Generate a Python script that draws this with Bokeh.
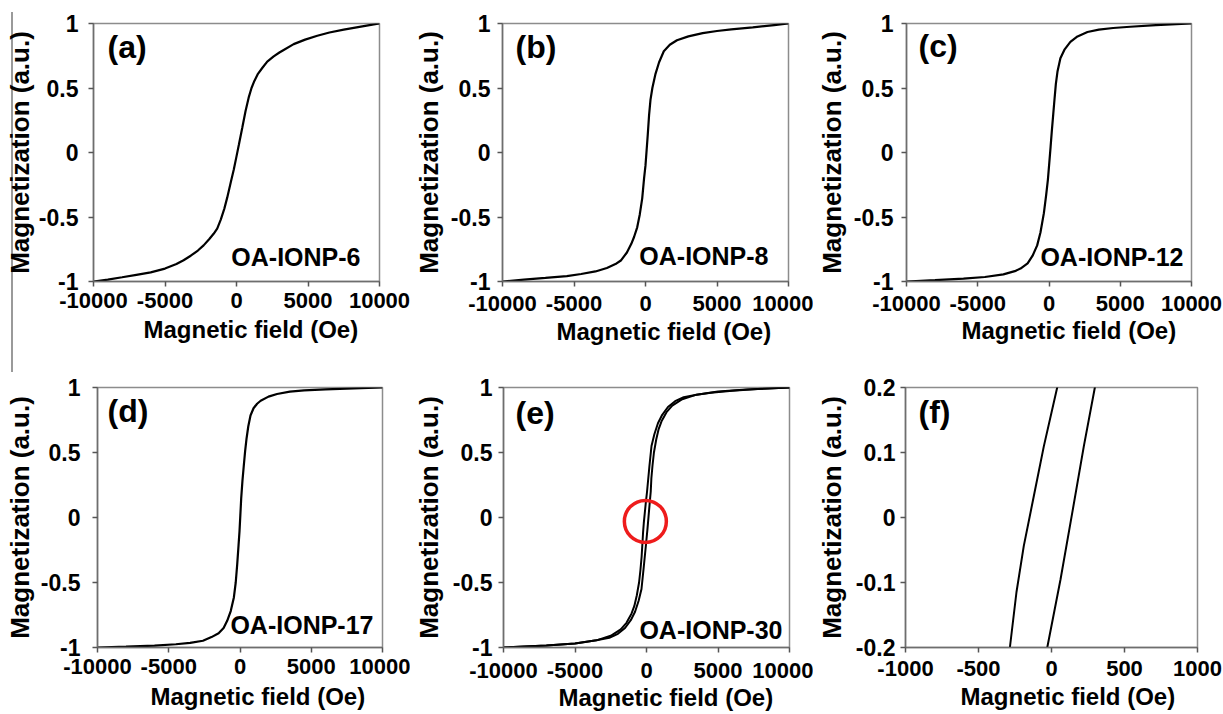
from bokeh.plotting import figure
from bokeh.models import Range1d, FixedTicker, Label, Div, Title
from bokeh.layouts import row, column
from bokeh.embed import file_html
from bokeh.resources import INLINE

# ---------------- data ----------------
field_a = [-10000, -9000, -8000, -7000, -6000, -5000, -4200, -3700, -3200, -2700, -2300, -1900,
           -1600, -1350, -1100, -850, -650, -400, -185, 0, 165, 400, 630, 850, 1050, 1250, 1500,
           1800, 2150, 2600, 3000, 3300, 4000, 4800, 5650, 6500, 7500, 8500, 9300, 10000]
mag_a = [-1.0, -0.985, -0.967, -0.948, -0.929, -0.9, -0.865, -0.835, -0.8, -0.76, -0.72, -0.67,
         -0.63, -0.59, -0.52, -0.435, -0.35, -0.23, -0.13, -0.03, 0.06, 0.19, 0.32, 0.425, 0.5, 0.555,
         0.61, 0.655, 0.705, 0.745, 0.775, 0.795, 0.84, 0.875, 0.905, 0.93, 0.952, 0.972, 0.987, 1.0]

field_b = [-10000, -8500, -7000, -5500, -4500, -3500, -2700, -2100, -1700, -1300, -1000, -800,
           -580, -400, -230, -100, 0, 80, 160, 250, 350, 480, 700, 950, 1280, 1700, 2200, 3000,
           4000, 5000, 6000, 7500, 9000, 10000]
mag_b = [-1.0, -0.985, -0.972, -0.958, -0.942, -0.922, -0.895, -0.865, -0.835, -0.775, -0.71, -0.655,
         -0.58, -0.48, -0.355, -0.2, -0.1, 0.02, 0.14, 0.29, 0.41, 0.5, 0.61, 0.7, 0.785, 0.835, 0.87,
         0.9, 0.925, 0.942, 0.955, 0.97, 0.988, 1.0]

field_c = [-10000, -8000, -6000, -4500, -3200, -2400, -2000, -1500, -1150, -830, -600, -360, -200,
           -77, 20, 112, 200, 300, 400, 480, 600, 800, 1100, 1500, 2000, 2700, 3500, 4500, 5700,
           7500, 10000]
mag_c = [-1.0, -0.99, -0.978, -0.965, -0.945, -0.92, -0.9, -0.86, -0.8, -0.72, -0.62, -0.47, -0.33,
         -0.21, -0.08, 0.044, 0.17, 0.3, 0.43, 0.53, 0.63, 0.73, 0.8, 0.857, 0.9, 0.934, 0.952,
         0.965, 0.975, 0.987, 1.0]

field_d = [-10000, -8000, -6000, -4500, -3500, -2600, -2000, -1500, -1150, -900, -650, -430, -300,
           -196, -100, -35, 25, 84, 170, 267, 360, 456, 580, 737, 950, 1200, 1450, 2000, 2600,
           3500, 4500, 6000, 8000, 10000]
mag_d = [-1.0, -0.993, -0.985, -0.975, -0.965, -0.948, -0.92, -0.89, -0.85, -0.795, -0.72, -0.615,
         -0.5, -0.36, -0.21, -0.107, 0.02, 0.147, 0.28, 0.4, 0.51, 0.605, 0.7, 0.785, 0.84, 0.875,
         0.898, 0.93, 0.95, 0.968, 0.978, 0.986, 0.993, 1.0]

# OA-IONP-30 hysteresis loop: descending and ascending branches
field_e_desc = [10000, 8000, 6000, 4500, 3500, 2600, 2000, 1500, 1100, 800, 550, 350, 200, 39,
                -53, -121, -190, -240, -285, -340, -420, -520, -680, -850, -1050, -1400, -1800,
                -2500, -3500, -5000, -7000, -10000]
mag_e_desc = [1.0, 0.99, 0.975, 0.96, 0.945, 0.925, 0.895, 0.85, 0.79, 0.725, 0.64, 0.55, 0.39, 0.2,
              0.109, 0.033, -0.044, -0.115, -0.2, -0.3, -0.4, -0.5, -0.6, -0.68, -0.74, -0.81, -0.86,
              -0.91, -0.945, -0.97, -0.985, -1.0]
field_e_asc = [-10000, -7000, -5000, -3500, -2600, -2000, -1500, -1100, -800, -550, -350, -200, -29,
               62, 142, 221, 297, 340, 420, 520, 680, 850, 1050, 1400, 1800, 2500, 3500, 5000,
               7000, 10000]
mag_e_asc = [-1.0, -0.985, -0.97, -0.945, -0.925, -0.895, -0.85, -0.79, -0.725, -0.64, -0.55, -0.39,
             -0.2, -0.095, 0.007, 0.109, 0.2, 0.3, 0.4, 0.5, 0.6, 0.68, 0.74, 0.81, 0.86, 0.91, 0.945,
             0.97, 0.985, 1.0]

circle_x = [-80]
circle_y = [-0.03]

x_ticks_full = [-10000, -5000, 0, 5000, 10000]
x_tick_labels_full = ["-10000", "-5000", "0", "5000", "10000"]
y_ticks_full = [-1, -0.5, 0, 0.5, 1]
y_tick_labels_full = ["-1", "-0.5", "0", "0.5", "1"]
x_ticks_zoom = [-1000, -500, 0, 500, 1000]
x_tick_labels_zoom = ["-1000", "-500", "0", "500", "1000"]
y_ticks_zoom = [-0.2, -0.1, 0, 0.1, 0.2]
y_tick_labels_zoom = ["-0.2", "-0.1", "0", "0.1", "0.2"]

panel_letters = ["(a)", "(b)", "(c)", "(d)", "(e)", "(f)"]
sample_names = ["OA-IONP-6", "OA-IONP-8", "OA-IONP-12", "OA-IONP-17", "OA-IONP-30", None]
x_title = "Magnetic field (Oe)"
y_title = "Magnetization (a.u.)"

FONT = "Liberation Sans"


def make_panel(w, h, bl, br, bt, bb, xr, yr, xt, xl, yt, yl, letter, name,
               letter_off, name_off, x_std, xlab, y_std, y_lab_std, transparent=False):
    p = figure(width=w, height=h, output_backend="svg", toolbar_location=None,
               x_range=Range1d(*xr), y_range=Range1d(*yr),
               min_border_left=bl, min_border_right=br, min_border_top=bt, min_border_bottom=bb)
    p.xgrid.visible = False
    p.ygrid.visible = False
    p.background_fill_color = "white"
    p.border_fill_color = "white"
    if transparent:
        p.border_fill_alpha = 0
    p.outline_line_color = "#8c8c8c"
    p.outline_line_width = 1.5
    for ax in (p.xaxis, p.yaxis):
        ax.axis_line_color = "#6e6e6e"
        ax.axis_line_width = 1.5
        ax.major_tick_line_color = "#555555"
        ax.major_tick_line_width = 1.5
        ax.major_tick_out = 5
        ax.major_tick_in = 0
        ax.minor_tick_out = 0
        ax.minor_tick_in = 0
        ax.major_label_text_font = FONT
        ax.major_label_text_font_style = "bold"
        ax.major_label_text_color = "black"
        ax.axis_label_text_font = FONT
        ax.axis_label_text_font_style = "bold"
        ax.axis_label_text_color = "black"
    p.xaxis.ticker = FixedTicker(ticks=xt)
    p.xaxis.major_label_overrides = {t: s for t, s in zip(xt, xl)}
    p.yaxis.ticker = FixedTicker(ticks=yt)
    p.yaxis.major_label_overrides = {t: s for t, s in zip(yt, yl)}
    p.xaxis.major_label_text_font_size = "22px"
    p.yaxis.major_label_text_font_size = "23px"
    p.yaxis.axis_label = y_title
    p.yaxis.axis_label_text_font_size = "26px"
    p.xaxis.major_label_standoff = x_std
    p.yaxis.major_label_standoff = y_std
    p.yaxis.axis_label_standoff = y_lab_std

    # x-axis title below the tick labels, shifted right as in the reference
    p.add_layout(Title(text=x_title, align="left", offset=xlab[0], standoff=xlab[1],
                       text_font=FONT, text_font_style="bold", text_font_size="24px",
                       text_color="black"), "below")

    fw = w - bl - br
    fh = h - bt - bb
    xs = (xr[1] - xr[0]) / fw
    ys = (yr[1] - yr[0]) / fh
    p.add_layout(Label(x=xr[0] + letter_off[0] * xs, y=yr[1] - letter_off[1] * ys, text=letter,
                       text_font=FONT, text_font_style="bold", text_font_size="32px",
                       text_color="black", text_align="left", text_baseline="middle"))
    if name:
        p.add_layout(Label(x=xr[1] - name_off[0] * xs, y=yr[0] + name_off[1] * ys, text=name,
                           text_font=FONT, text_font_style="bold", text_font_size="25px",
                           text_color="black", text_align="right", text_baseline="middle"))
    return p


full_x = (-10000, 10000)
full_y = (-1, 1)
H1 = 360
H2 = 354

pa = make_panel(410, H1, 93, 31, 20, 79, full_x, full_y, x_ticks_full, x_tick_labels_full,
                y_ticks_full, y_tick_labels_full, panel_letters[0], sample_names[0],
                (14, 23.5), (19, 25), 6, (50, 7), 10, 1, transparent=True)
pa.line(field_a, mag_a, line_color="black", line_width=2.2)

pb = make_panel(403, H1, 92, 25, 21, 77, full_x, full_y, x_ticks_full, x_tick_labels_full,
                y_ticks_full, y_tick_labels_full, panel_letters[1], sample_names[1],
                (13, 23.5), (20, 25.5), 9, (54, 4), 7, 4)
pb.line(field_b, mag_b, line_color="black", line_width=2.2)

pc = make_panel(410, H1, 93, 32, 23, 75, full_x, full_y, x_ticks_full, x_tick_labels_full,
                y_ticks_full, y_tick_labels_full, panel_letters[2], sample_names[2],
                (12, 22.5), (8, 25), 9, (55, 2), 8, 4)
pc.line(field_c, mag_c, line_color="black", line_width=2.2)

pd = make_panel(410, H2, 97, 28, 25, 67, full_x, full_y, x_ticks_full, x_tick_labels_full,
                y_ticks_full, y_tick_labels_full, panel_letters[3], sample_names[3],
                (10, 24), (9, 23), 6, (53, 8), 12, 3, transparent=True)
pd.line(field_d, mag_d, line_color="black", line_width=2.2)

pe = make_panel(403, H2, 93, 24, 27, 65, full_x, full_y, x_ticks_full, x_tick_labels_full,
                y_ticks_full, y_tick_labels_full, panel_letters[4], sample_names[4],
                (12, 26), (7, 18), 10, (55, 2), 6, 6)
pe.line(field_e_desc, mag_e_desc, line_color="black", line_width=2.0)
pe.line(field_e_asc, mag_e_asc, line_color="black", line_width=2.0)
pe.scatter(circle_x, circle_y, marker="circle", size=42, fill_color=None,
           line_color="#ee1c1c", line_width=3.5)

pf = make_panel(410, H2, 92, 26, 27, 65, (-1000, 1000), (-0.2, 0.2), x_ticks_zoom,
                x_tick_labels_zoom, y_ticks_zoom, y_tick_labels_zoom, panel_letters[5],
                sample_names[5], (13, 24.5), (0, 0), 8, (55, 4), 5, 6)
pf.line(field_e_desc, mag_e_desc, line_color="black", line_width=2.0)
pf.line(field_e_asc, mag_e_asc, line_color="black", line_width=2.0)

edge = Div(text='<div style="position:relative;left:11px;top:12px;width:2px;height:360px;background:#9a9a9a"></div>',
           width=14, height=380, margin=(0, -14, 0, 0))

layout = row(edge, column(row(pa, pb, pc), row(pd, pe, pf)))

html = file_html(layout, INLINE, title="Magnetization curves")
with open("out.html", "w") as f:
    f.write(html)
